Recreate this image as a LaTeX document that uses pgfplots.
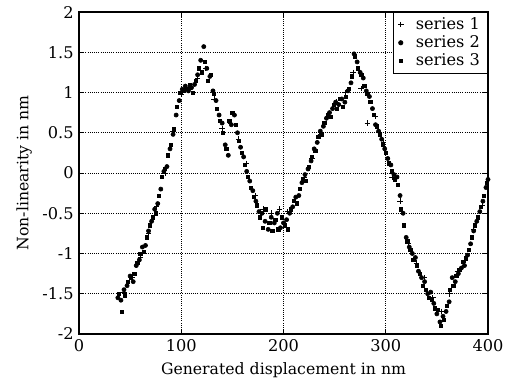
\documentclass[border=0pt]{standalone}
\usepackage{fontspec}
\setmainfont{DejaVu Serif}
\usepackage{pgfplots}
\pgfplotsset{compat=1.18}
\begin{document}
\begin{tikzpicture}
\begin{axis}[
  scale only axis,
  width=265.85pt, height=209.3pt,
  xmin=0, xmax=400, ymin=-2, ymax=2,
  xtick={0,100,200,300,400},
  ytick={-2,-1.5,-1,-0.5,0,0.5,1,1.5,2},
  yticklabels={-2,-1.5,-1,-0.5,0,0.5,1,1.5,2},
  xticklabels={0,100,200,300,400},
  /pgf/number format/assume math mode=true,
  tick align=inside,
  tick style={black, thin},
  major tick length=3pt,
  grid=major,
  grid style={black, densely dotted, line width=0.6pt},
  axis line style={black, line width=0.8pt},
  xlabel={Generated displacement in nm},
  ylabel={Non-linearity in nm},
  ticklabel style={font=\fontsize{10.5}{12}\selectfont},
  label style={font=\fontsize{10.2}{12}\selectfont},
  clip=false,
  legend style={at={(1,1)}, anchor=north east, draw=black, line width=0.6pt,
    font=\fontsize{10.5}{12}\selectfont, row sep=0pt, column sep=6pt,
    inner xsep=3pt, inner ysep=2pt,
    legend cell align=right,
    nodes={text height=7.8pt, text depth=2pt, inner ysep=1pt, inner xsep=2pt}},
  legend image code/.code={\draw[mark repeat=2,mark phase=2] plot coordinates {(0cm,0cm) (0.3cm,0cm) (0.6cm,0cm)};},
]
\addplot[only marks, mark=+, mark size=1.8pt, black, line width=0.45pt] coordinates {
(44,-1.48) (52,-1.30) (60,-1.05) (68,-0.75) (76,-0.42) (84,0.00) (92,0.52)
(100,0.98) (108,1.04) (116,1.18) (124,1.30) (132,0.92) (140,0.55) (148,0.62)
(156,0.42) (164,0.12) (172,-0.28) (180,-0.45) (188,-0.50) (196,-0.45) (204,-0.48)
(212,-0.35) (220,-0.05) (228,0.18) (236,0.48) (244,0.72) (252,0.88) (260,1.00)
(268,1.25) (276,1.05) (282,0.62) (290,0.70) (298,0.38) (306,-0.05) (314,-0.35)
(322,-0.88) (330,-1.12) (338,-1.30) (346,-1.55) (354,-1.72) (362,-1.50) (370,-1.22)
(378,-1.08) (386,-0.70) (394,-0.40)
};
\addlegendentry{series 1}
\addplot[only marks, mark=*, mark size=1.35pt, black] coordinates {
(38,-1.55) (41,-1.58) (44,-1.45) (47,-1.40) (50,-1.28) (53,-1.35) (56,-1.15)
(59,-1.08) (62,-0.92) (65,-0.90) (68,-0.72) (71,-0.60) (74,-0.45) (77,-0.38)
(80,-0.20) (83,0.02) (86,0.08) (89,0.30) (92,0.48) (95,0.72) (98,0.90)
(101,1.04) (104,1.08) (107,1.02) (110,1.06) (113,1.10) (116,1.22) (119,1.40)
(122,1.57) (125,1.30) (128,1.20) (131,1.02) (134,0.90) (137,0.72) (140,0.62)
(143,0.35) (146,0.22) (149,0.60) (152,0.72) (155,0.50) (158,0.32) (161,0.20)
(164,0.02) (167,-0.10) (170,-0.22) (173,-0.35) (176,-0.48) (179,-0.50) (182,-0.60)
(185,-0.70) (188,-0.55) (191,-0.62) (194,-0.50) (197,-0.68) (200,-0.62) (203,-0.58)
(206,-0.50) (209,-0.42) (212,-0.30) (215,-0.28) (218,-0.12) (221,-0.02) (224,0.05)
(227,0.15) (230,0.30) (233,0.38) (236,0.52) (239,0.58) (242,0.68) (245,0.75)
(248,0.80) (251,0.88) (254,0.85) (257,0.92) (260,0.88) (263,1.02) (266,1.12)
(269,1.48) (272,1.38) (275,1.25) (278,1.18) (281,1.02) (284,0.95) (287,0.80)
(290,0.60) (293,0.52) (296,0.42) (299,0.30) (302,0.18) (305,0.10) (308,-0.02)
(311,-0.05) (314,-0.28) (317,-0.50) (320,-0.80) (323,-0.92) (326,-1.00) (329,-1.05)
(332,-1.22) (335,-1.30) (338,-1.35) (341,-1.50) (344,-1.48) (347,-1.62) (350,-1.75)
(353,-1.85) (356,-1.78) (359,-1.72) (362,-1.60) (365,-1.30) (368,-1.35) (371,-1.25)
(374,-1.18) (377,-1.15) (380,-1.02) (383,-0.88) (386,-0.72) (389,-0.60) (392,-0.48)
(395,-0.35) (398,-0.18) (400,-0.08)
};
\addlegendentry{series 2}
\addplot[only marks, mark=square*, mark size=1.05pt, black] coordinates {
(39,-1.50) (42,-1.72) (45,-1.52) (48,-1.35) (51,-1.30) (54,-1.25) (57,-1.12)
(60,-1.00) (63,-0.98) (66,-0.80) (69,-0.65) (72,-0.55) (75,-0.50) (78,-0.28)
(81,-0.05) (84,0.05) (87,0.22) (90,0.35) (93,0.55) (96,0.82) (99,1.00)
(102,1.02) (105,1.05) (108,1.10) (111,1.00) (114,1.15) (117,1.30) (120,1.25)
(123,1.38) (126,1.15) (129,1.22) (132,0.98) (135,0.80) (138,0.65) (141,0.50)
(144,0.30) (147,0.65) (150,0.75) (153,0.60) (156,0.40) (159,0.25) (162,0.10)
(165,-0.05) (168,-0.18) (171,-0.30) (174,-0.40) (177,-0.55) (180,-0.68) (183,-0.45)
(186,-0.62) (189,-0.72) (192,-0.58) (195,-0.70) (198,-0.55) (201,-0.65) (204,-0.70)
(207,-0.45) (210,-0.35) (213,-0.38) (216,-0.20) (219,-0.08) (222,-0.10) (225,0.08)
(228,0.20) (231,0.28) (234,0.45) (237,0.48) (240,0.62) (243,0.72) (246,0.70)
(249,0.85) (252,0.80) (255,0.92) (258,0.82) (261,0.95) (264,1.05) (267,1.20)
(270,1.45) (273,1.30) (276,1.22) (279,1.08) (282,0.98) (285,0.88) (288,0.72)
(291,0.58) (294,0.48) (297,0.35) (300,0.25) (303,0.12) (306,0.02) (309,-0.08)
(312,-0.15) (315,-0.45) (318,-0.65) (321,-0.85) (324,-0.95) (327,-1.08) (330,-1.15)
(333,-1.25) (336,-1.40) (339,-1.45) (342,-1.55) (345,-1.58) (348,-1.68) (351,-1.70)
(354,-1.90) (357,-1.82) (360,-1.65) (363,-1.45) (366,-1.40) (369,-1.28) (372,-1.20)
(375,-1.10) (378,-1.05) (381,-0.95) (384,-0.80) (387,-0.65) (390,-0.55) (393,-0.42)
(396,-0.28) (399,-0.12)
};
\addlegendentry{series 3}
\path (rel axis cs:-0.1932,-0.1584) rectangle (rel axis cs:1.0538,1.0373);
\end{axis}
\end{tikzpicture}
\end{document}
